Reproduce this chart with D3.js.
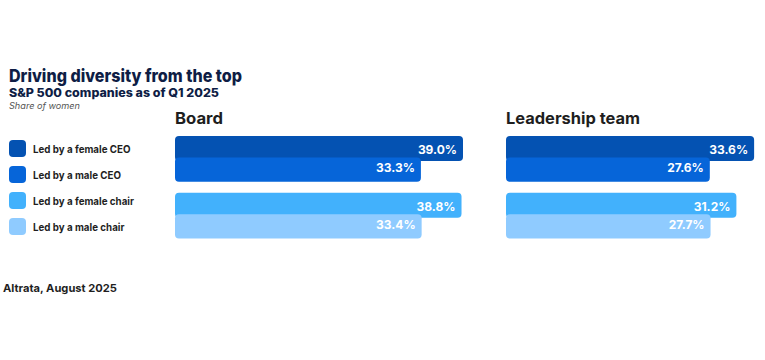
<!DOCTYPE html>
<html>
<head>
<meta charset="utf-8">
<script src="https://cdn.jsdelivr.net/npm/d3@7"></script>
<style>
  html, body { margin: 0; padding: 0; background: #ffffff; }
  svg { display: block; font-family: Inter, "Open Sans", sans-serif; }
</style>
</head>
<body>
<div id="chart"></div>
<script>
// ---- Data ----
const series = ["Led by a female CEO", "Led by a male CEO", "Led by a female chair", "Led by a male chair"];
const groups = ["CEO", "chair"];
const panels = ["Board", "Leadership team"];
const boardValues = [39.0, 33.3, 38.8, 33.4];
const leadershipValues = [33.6, 27.6, 31.2, 27.7];
const colors = ["#0452b2", "#0665d9", "#42b1fc", "#8fcbff"];

const W = 765, H = 360;
const svg = d3.select("#chart").append("svg").attr("width", W).attr("height", H);

function fitText(sel, w) {
  const node = sel.node();
  const len = node.getComputedTextLength();
  if (len > 0) sel.attr("textLength", w).attr("lengthAdjust", "spacingAndGlyphs");
  return sel;
}

// Titles
fitText(svg.append("text").attr("x", 9).attr("y", 81.5)
  .attr("font-size", 17.5).attr("font-weight", 800).attr("fill", "#0e1d45")
  .text("Driving diversity from the top"), 233);
fitText(svg.append("text").attr("x", 9).attr("y", 97.2)
  .attr("font-size", 11.5).attr("font-weight", 800).attr("fill", "#0e1d45")
  .text("S&P 500 companies as of Q1 2025"), 210);
fitText(svg.append("text").attr("x", 9).attr("y", 108.5)
  .attr("font-size", 9).attr("font-style", "italic").attr("fill", "#555")
  .text("Share of women"), 71);

// Legend
const legY = d3.scalePoint().domain(series).range([140, 218]);
const leg = svg.append("g").selectAll("g").data(series).join("g")
  .attr("transform", d => `translate(9,${legY(d)})`);
leg.append("rect").attr("width", 17).attr("height", 17).attr("rx", 4)
  .attr("fill", (d, i) => colors[i]);
leg.append("text").attr("x", 24).attr("y", 12.6)
  .attr("font-size", 10.5).attr("font-weight", 700).attr("fill", "#1f1f1f")
  .text(d => d)
  .each(function() { fitText(d3.select(this), this.getComputedTextLength() * 0.93); });

// Scales
const x = d3.scaleLinear().domain([0, 39]).range([0, 288]);
const yGroup = d3.scaleBand().domain(groups).range([136, 238.5]).paddingInner(0.194);
const panelX = d3.scaleOrdinal().domain(panels).range([175, 506]);
const subOffset = 21.5;
const barH = 25;

const panelData = [
  { name: panels[0], values: boardValues },
  { name: panels[1], values: leadershipValues }
];

panelData.forEach(p => {
  const g = svg.append("g").attr("transform", `translate(${panelX(p.name)},0)`);
  const headW = p.name === "Board" ? 48 : 134;
  fitText(g.append("text").attr("x", 0).attr("y", 124)
    .attr("font-size", 16).attr("font-weight", 700).attr("fill", "#1e1e1e")
    .text(p.name), headW);

  const rows = p.values.map((v, i) => ({
    v, i, group: groups[Math.floor(i / 2)], sub: i % 2
  }));
  const yTop = d => yGroup(d.group) + d.sub * subOffset;
  const hh = d => d.sub === 0 ? barH : yGroup.bandwidth() - subOffset;

  const bars = g.selectAll("g.bar").data(rows).join("g").attr("class", "bar");
  bars.append("rect")
    .attr("x", 0).attr("y", yTop)
    .attr("width", d => x(d.v)).attr("height", hh)
    .attr("rx", 4).attr("fill", d => colors[d.i]);
  bars.append("text")
    .attr("x", d => x(d.v) - 6)
    .attr("y", d => d.sub === 0 ? yTop(d) + 18 : yTop(d) + 14.5)
    .attr("text-anchor", "end")
    .attr("font-size", 12).attr("font-weight", 700).attr("fill", "#ffffff")
    .text(d => d.v.toFixed(1) + "%");
});

// Source
fitText(svg.append("text").attr("x", 3).attr("y", 292)
  .attr("font-size", 11).attr("font-weight", 700).attr("fill", "#1f1f1f")
  .text("Altrata, August 2025"), 114);
</script>
</body>
</html>
